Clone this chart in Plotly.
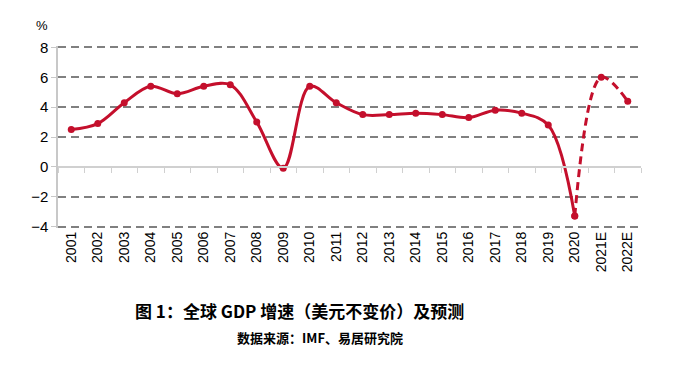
import plotly.graph_objects as go

years = ["2001", "2002", "2003", "2004", "2005", "2006", "2007", "2008", "2009", "2010",
         "2011", "2012", "2013", "2014", "2015", "2016", "2017", "2018", "2019", "2020",
         "2021E", "2022E"]
gdp_growth = [2.5, 2.9, 4.3, 5.4, 4.9, 5.4, 5.5, 3.0, -0.1, 5.4,
              4.3, 3.5, 3.5, 3.6, 3.5, 3.3, 3.8, 3.6, 2.8, -3.3,
              6.0, 4.4]
n_actual = 20  # 2001-2020 actual, 2020 onward forecast drawn dashed

y_ticks = [-4, -2, 0, 2, 4, 6, 8]

RED = "#C40F2C"
FONT = "Liberation Sans, Arial, sans-serif"
CJK = "Noto Sans CJK SC"

fig = go.Figure()

fig.add_trace(go.Scatter(
    x=years[:n_actual], y=gdp_growth[:n_actual],
    mode="lines+markers",
    line=dict(color=RED, width=3, shape="spline", smoothing=1.0),
    marker=dict(color=RED, size=7),
    showlegend=False, hoverinfo="x+y",
))
fig.add_trace(go.Scatter(
    x=years[n_actual - 1:], y=gdp_growth[n_actual - 1:],
    mode="lines+markers",
    line=dict(color=RED, width=3, shape="spline", smoothing=1.0, dash="8px,5px"),
    marker=dict(color=RED, size=7),
    showlegend=False, hoverinfo="x+y",
))
# invisible trace to carry the zero-line axis
fig.add_trace(go.Scatter(
    x=years, y=[0] * len(years), xaxis="x2", mode="lines",
    line=dict(width=0), showlegend=False, hoverinfo="skip",
))

xrange = [-0.5, len(years) - 0.5]
ymin, ymax = -4, 8
pad = 0.1

fig.update_layout(
    width=669, height=357,
    margin=dict(l=50, r=36, t=38, b=137),
    paper_bgcolor="white", plot_bgcolor="white",
    font=dict(family=FONT, size=14, color="black"),
    xaxis=dict(
        type="category", categoryorder="array", categoryarray=years,
        range=xrange, showgrid=False, showline=False, zeroline=False,
        ticks="", tickangle=-90, tickfont=dict(size=14, family=FONT),
        automargin=False,
    ),
    xaxis2=dict(
        type="category", categoryorder="array", categoryarray=years,
        range=xrange, overlaying="x", anchor="free",
        position=(0 - ymin + pad) / (ymax - ymin + 2 * pad),
        showline=True, linecolor="#D0D0D0", linewidth=1.5,
        ticks="outside", tickson="boundaries", ticklen=5, tickcolor="#D0D0D0",
        showticklabels=False, showgrid=False, zeroline=False, automargin=False,
    ),
    yaxis=dict(
        range=[ymin - pad, ymax + pad], tickvals=y_ticks,
        ticktext=[str(v).replace("-", "−") for v in y_ticks],
        showgrid=True, gridcolor="#808080", gridwidth=2, griddash="8px,5px",
        zeroline=False, showline=True, linecolor="#C8C8C8", linewidth=1.5,
        ticks="outside", ticklen=5, tickcolor="#C8C8C8",
        tickfont=dict(size=15, family=FONT), automargin=False,
    ),
    annotations=[
        dict(text="%", xref="paper", yref="paper", x=-0.027, y=1.115,
             xanchor="center", yanchor="middle", showarrow=False,
             font=dict(size=13, family=FONT)),
        dict(text="<b>图 1：全球 GDP 增速（美元不变价）及预测</b>", xref="paper", yref="paper",
             x=0.415, y=-0.456, xanchor="center", yanchor="middle", showarrow=False,
             font=dict(size=17, family=CJK)),
        dict(text="<b>数据来源：IMF、易居研究院</b>", xref="paper", yref="paper",
             x=0.449, y=-0.599, xanchor="center", yanchor="middle", showarrow=False,
             font=dict(size=13, family=CJK)),
    ],
)

fig.write_html("out.html")
